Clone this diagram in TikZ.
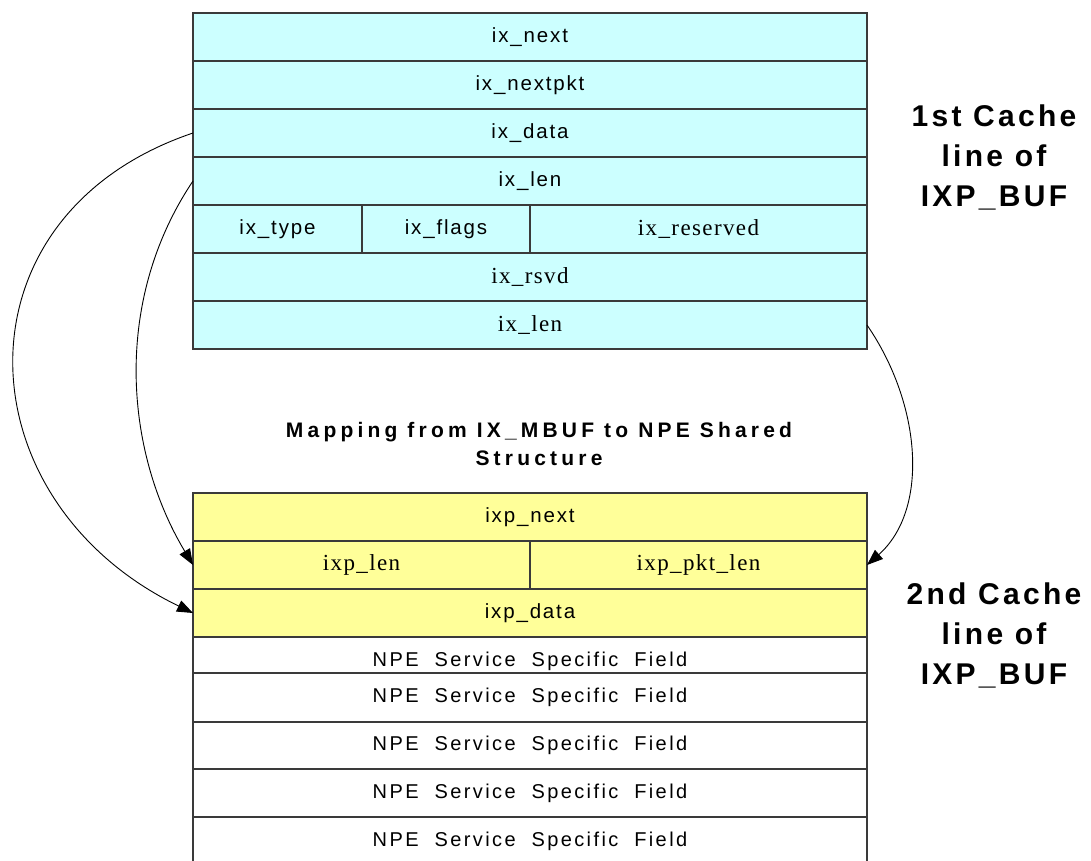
\documentclass[tikz,border=0pt]{standalone}
\usepackage{fontspec}
\setmainfont{Liberation Sans}
\newfontfamily\cellsans{Liberation Sans}[LetterSpace=9]
\newfontfamily\npesans{Liberation Sans}[LetterSpace=12]
\newfontfamily\cellserif{Liberation Serif}[LetterSpace=6]
\newfontfamily\headsans{Liberation Sans}[LetterSpace=11]
\newfontfamily\titlesans{Liberation Sans}[LetterSpace=20]
\usetikzlibrary{arrows.meta}
\definecolor{cyanfill}{HTML}{CCFFFF}
\definecolor{yelfill}{HTML}{FFFF99}
\definecolor{cellline}{HTML}{3A3A3A}
\begin{document}
\begin{tikzpicture}[x=1pt,y=-1pt,
  cell/.style={draw=cellline, line width=1.2pt, inner sep=0pt, outer sep=0pt,
    anchor=north west, minimum height=48pt, minimum width=674pt, align=center},
  sanst/.style={font=\cellsans\fontsize{20.5}{24}\selectfont},
  seriff/.style={font=\cellserif\fontsize{23}{26}\selectfont},
  cy/.style={cell, fill=cyanfill},
  ye/.style={cell, fill=yelfill},
  wh/.style={cell, fill=white, font=\npesans\fontsize{20}{24}\selectfont},
  head/.style={font=\headsans\bfseries\fontsize{30}{40}\selectfont, align=center},
  titlef/.style={font=\titlesans\bfseries\fontsize{21}{28}\selectfont, align=center},
  conn/.style={line width=0.9pt, -{Triangle[length=16pt,width=12pt]}}
]
\useasboundingbox (0,0) rectangle (1091,861);
% top structure
\node[cy, sanst] (t1) at (193,13) {ix\_next};
\node[cy, sanst] (t2) at (193,61) {ix\_nextpkt};
\node[cy, sanst] (t3) at (193,109) {ix\_data};
\node[cy, sanst] (t4) at (193,157) {ix\_len};
\node[cy, sanst, minimum width=169pt] (t5a) at (193,205) {ix\_type};
\node[cy, sanst, minimum width=168pt] (t5b) at (362,205) {ix\_flags};
\node[cy, seriff, minimum width=337pt] (t5c) at (530,205) {ix\_reserved};
\node[cy, seriff] (t6) at (193,253) {ix\_rsvd};
\node[cy, seriff] (t7) at (193,301) {ix\_len};
% bottom structure
\node[ye, sanst] (b1) at (193,493) {ixp\_next};
\node[ye, seriff, minimum width=337pt] (b2a) at (193,541) {ixp\_len};
\node[ye, seriff, minimum width=337pt] (b2b) at (530,541) {ixp\_pkt\_len};
\node[ye, sanst] (b3) at (193,589) {ixp\_data};
\node[wh] (n1) at (193,637) {NPE\ \ Service\ \ Specific\ \ Field};
\node[wh, minimum height=49pt] (n2) at (193,673) {NPE\ \ Service\ \ Specific\ \ Field};
\node[wh, minimum height=47pt] (n3) at (193,722) {NPE\ \ Service\ \ Specific\ \ Field};
\node[wh] (n4) at (193,769) {NPE\ \ Service\ \ Specific\ \ Field};
\node[wh] (n5) at (193,817) {NPE\ \ Service\ \ Specific\ \ Field};
% labels
\node[head] (cache1) at (994,157) {1st Cache\\line of\\IXP\_BUF};
\node[head] (cache2) at (994,635) {2nd Cache\\line of\\IXP\_BUF};
\node[titlef] (title) at (539,444) {Mapping from IX\_MBUF to NPE Shared\\Structure};
% connectors
\draw[conn] (t3.west) .. controls (-50,215) and (-40,500) .. (b3.west);
\draw[conn] (t4.west) .. controls (113,300) and (124,450) .. (b2a.west);
\draw[conn] (t7.east) .. controls (922,405) and (929,510) .. (b2b.east);
\end{tikzpicture}
\end{document}
